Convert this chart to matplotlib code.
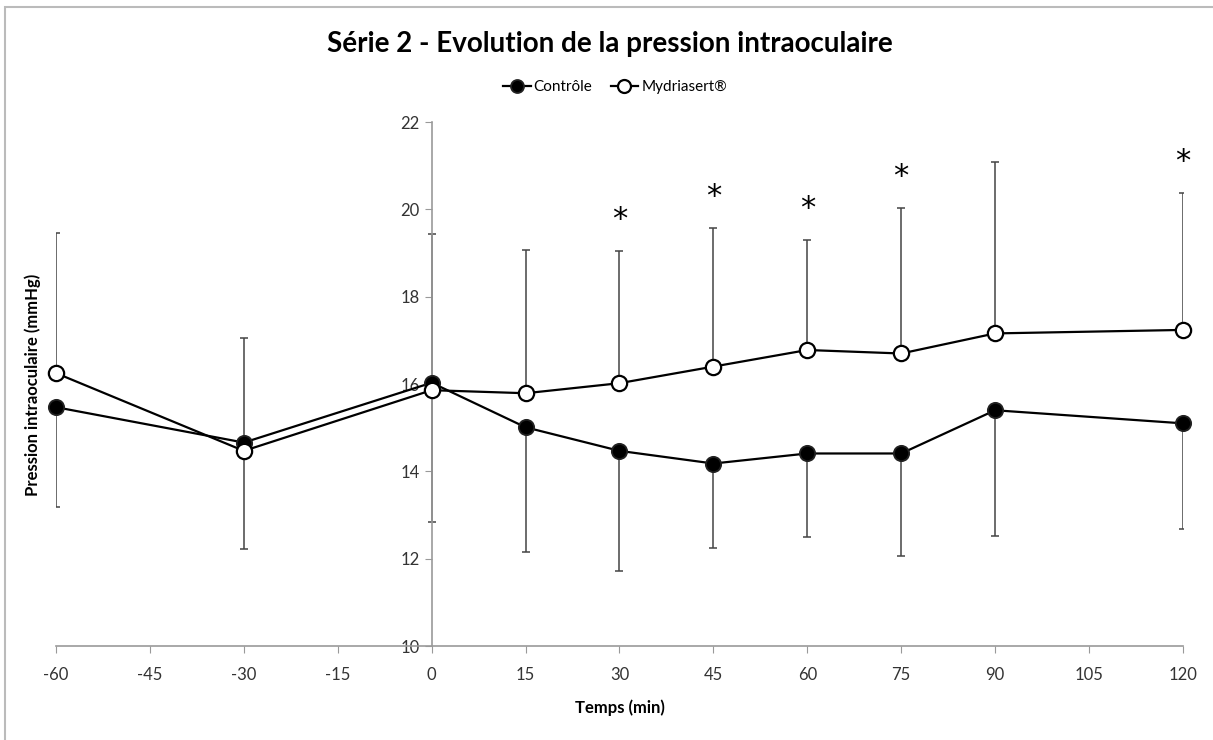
import matplotlib
matplotlib.use("Agg")
import matplotlib.pyplot as plt
from matplotlib.patches import Rectangle

plt.rcParams['font.family'] = ['Lato', 'DejaVu Sans']
plt.rcParams['axes.unicode_minus'] = False

# data
temps = [-60, -30, 0, 15, 30, 45, 60, 75, 90, 120]
controle = [15.47, 14.66, 16.03, 15.01, 14.47, 14.18, 14.41, 14.41, 15.40, 15.10]
mydriasert = [16.25, 14.47, 15.86, 15.79, 16.02, 16.40, 16.78, 16.70, 17.16, 17.24]
controle_sd = [2.29, 2.44, 3.18, 2.86, 2.75, 1.94, 1.92, 2.35, 2.88, 2.42]
mydriasert_sd = [3.21, 2.58, 3.57, 3.28, 3.03, 3.18, 2.52, 3.34, 3.92, 3.13]
signif = [30, 45, 60, 75, 120]

fig = plt.figure(figsize=(12.13, 7.40), dpi=100)
ax = fig.add_axes([0.0462, 0.127, 0.929, 0.708])

# frame around the chart
fig.patches.append(Rectangle((0.004, -0.01), 1.0, 1.0, transform=fig.transFigure,
                             fill=False, edgecolor='#bbbbbb', linewidth=1.5))

# one-sided error bars: down for control, up for Mydriasert
ax.errorbar(temps, controle, yerr=[controle_sd, [0] * len(temps)], fmt='none',
            ecolor='#444444', elinewidth=1.1, capsize=3, capthick=1.1, zorder=2)
ax.errorbar(temps, mydriasert, yerr=[[0] * len(temps), mydriasert_sd], fmt='none',
            ecolor='#444444', elinewidth=1.1, capsize=3, capthick=1.1, zorder=2)

ax.plot(temps, controle, '-o', color='black', lw=1.6, ms=11, mfc='black',
        mec='#222222', mew=1.3, label='Contrôle', zorder=3, clip_on=False)
ax.plot(temps, mydriasert, '-o', color='black', lw=1.6, ms=11, mfc='white',
        mec='black', mew=1.6, label='Mydriasert®', zorder=4, clip_on=False)

for t in signif:
    i = temps.index(t)
    ax.text(t, mydriasert[i] + mydriasert_sd[i] + 0.72, '*', ha='center', va='center',
            fontsize=22, color='black', family='DejaVu Sans')

ax.set_xlim(-60, 120)
ax.set_ylim(10, 22)
ax.set_xticks(range(-60, 121, 15))
ax.set_yticks(range(10, 23, 2))

ax.spines['left'].set_position(('data', 0))
ax.spines['right'].set_visible(False)
ax.spines['top'].set_visible(False)
for s in ['left', 'bottom']:
    ax.spines[s].set_color('#999999')
    ax.spines[s].set_linewidth(1.2)
ax.tick_params(axis='both', colors='#999999', labelcolor='#333333', labelsize=12, length=5)
ax.tick_params(axis='x', pad=10)

ax.set_xlabel('Temps (min)', fontsize=12, fontweight='bold', labelpad=12)
fig.text(0.027, 0.48, 'Pression intraoculaire (mmHg)', rotation=90, ha='center', va='center',
         fontsize=12, fontweight='bold')

fig.text(0.503, 0.94, 'Série 2 - Evolution de la pression intraoculaire', ha='center',
         va='center', fontsize=20, fontweight='bold')
fig.legend(loc='center', bbox_to_anchor=(0.507, 0.882), ncol=2, frameon=False,
           fontsize=11, handlelength=1.8, handletextpad=0.2, columnspacing=1.2,
           markerscale=0.85)

fig.savefig('out.png', dpi=100)
